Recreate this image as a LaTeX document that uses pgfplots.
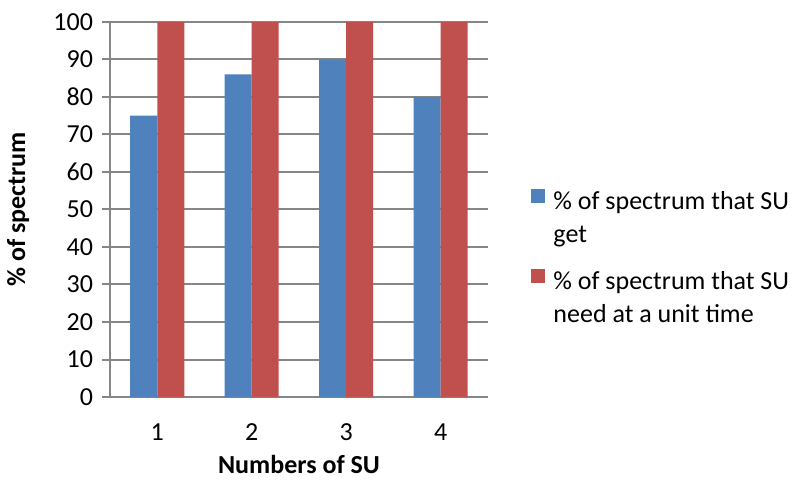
\documentclass[border=0pt]{standalone}
\usepackage{fontspec}
\setmainfont{Carlito}
\usepackage{pgfplots}
\pgfplotsset{compat=1.18}
\definecolor{barblue}{HTML}{4F81BD}
\definecolor{barred}{HTML}{C0504D}
\definecolor{gridgray}{HTML}{868686}

\begin{document}
\fontsize{13}{16.5}\selectfont
\begin{tikzpicture}
\useasboundingbox (0,0) rectangle (399pt,243.5pt);
\begin{axis}[
  at={(55pt,45pt)}, anchor=south west,
  scale only axis, width=189pt, height=187.5pt,
  font=\fontsize{13}{16.5}\selectfont,
  ybar=0pt, bar width=13.5pt,
  xmin=0.5, xmax=4.5, ymin=0, ymax=100,
  xtick={1,2,3,4}, ytick={0,10,...,100},
  /pgf/number format/assume math mode=true,
  major x tick style={draw=none},
  ymajorgrids, grid style={gridgray, line width=1pt},
  axis x line*=bottom, axis y line*=left,
  axis line style={gridgray, line width=1pt, -},
  tick style={gridgray, line width=1pt},
  tick align=outside, major tick length=4pt,
  xticklabel style={anchor=center, yshift=-13.5pt},
  yticklabel style={anchor=east},
  xlabel={\textbf{Numbers of SU}},
  ylabel={\textbf{\% of spectrum}},
  x label style={at={(axis description cs:0.5,-0.181)}, anchor=center},
  y label style={at={(axis description cs:-0.243,0.5)}, anchor=center},
  legend style={at={(axis description cs:1.114,0.563)}, anchor=north west,
    draw=none, fill=none, inner sep=0pt, row sep=0pt, column sep=4pt,
    nodes={inner sep=0pt, text depth=, font=\fontsize{13}{16.5}\selectfont}},
  legend cell align=left,
  legend image code/.code={\fill[#1] (0pt,0pt) rectangle (7pt,7pt);},
]
\addplot[fill=barblue, draw=none] coordinates {(1,75) (2,86) (3,90) (4,80)};
\addlegendentry{\strut\% of spectrum that SU}
\addlegendimage{empty legend}
\addlegendentry{\strut get\rule[-11.95pt]{0pt}{1pt}}
\addplot[fill=barred, draw=none] coordinates {(1,100) (2,100) (3,100) (4,100)};
\addlegendentry{\strut\% of spectrum that SU}
\addlegendimage{empty legend}
\addlegendentry{\strut need at a unit time}
\end{axis}
\end{tikzpicture}
\end{document}
